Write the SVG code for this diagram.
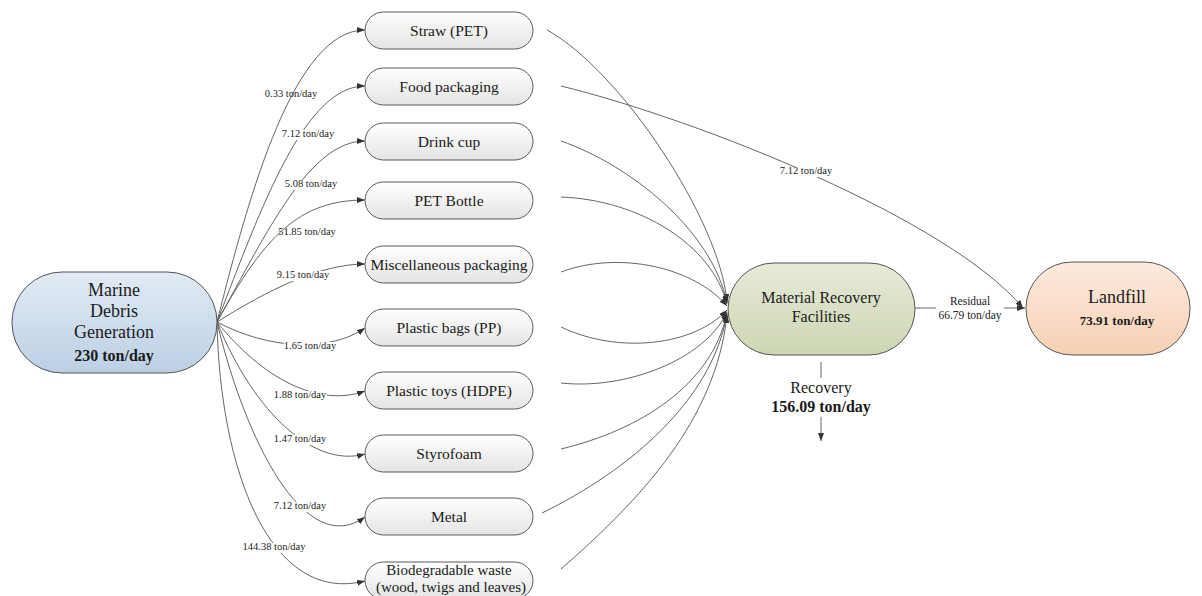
<svg xmlns="http://www.w3.org/2000/svg" width="1202" height="596" viewBox="0 0 1202 596">
<style>
.item{fill:url(#gItem);stroke:#5a5a5a;stroke-width:1}
text{font-family:'Liberation Serif','DejaVu Serif',serif}
.it{font-size:15.5px;fill:#1a1a1a;text-anchor:middle}
.big{font-size:18px;fill:#1a1a1a;text-anchor:middle}
.bold{font-weight:bold}
.lbl{font-size:10.5px;fill:#222;text-anchor:middle}
.lbg{fill:#fff}
.edge{fill:none;stroke:#555;stroke-width:0.9}
.arr{marker-end:url(#ah)}
</style>
<defs>
<marker id="ah" markerUnits="userSpaceOnUse" markerWidth="8" markerHeight="6" refX="8" refY="3" orient="auto">
<path d="M0,0 L8,3 L0,6 z" fill="#333"/>
</marker>
<linearGradient id="gItem" x1="0" y1="0" x2="0" y2="1"><stop offset="0" stop-color="#ffffff"/><stop offset="1" stop-color="#e4e4e4"/></linearGradient>
<linearGradient id="gBlue" x1="0" y1="0" x2="0" y2="1"><stop offset="0" stop-color="#e2ebf5"/><stop offset="1" stop-color="#bccfe4"/></linearGradient>
<linearGradient id="gGreen" x1="0" y1="0" x2="0" y2="1"><stop offset="0" stop-color="#e6ead8"/><stop offset="1" stop-color="#cdd6b3"/></linearGradient>
<linearGradient id="gPeach" x1="0" y1="0" x2="0" y2="1"><stop offset="0" stop-color="#fdeadf"/><stop offset="1" stop-color="#f6d0b4"/></linearGradient>
</defs>
<rect width="1202" height="596" fill="#fff"/>

<g id="connectors">
<path class="edge arr" d="M217,322 C250,190 295,30 365,30"/>
<path class="edge arr" d="M217,322 C262,205 305,86 365,86"/>
<path class="edge arr" d="M217,322 C268,230 310,141 365,141"/>
<path class="edge arr" d="M217,322 C265,235 300,200 365,200"/>
<path class="edge arr" d="M217,322 C268,290 320,264 365,264"/>
<path class="edge arr" d="M217,322 C270,350 330,352 365,328"/>
<path class="edge arr" d="M217,322 C262,378 318,408 365,391"/>
<path class="edge arr" d="M217,322 C255,415 315,468 365,454"/>
<path class="edge arr" d="M217,322 C245,440 305,560 365,517"/>
<path class="edge arr" d="M217,322 C220,470 270,605 365,581"/>

<path class="edge arr" d="M547,30 C620,70 720,220 727,302"/>
<path class="edge arr" d="M561,141 C630,165 712,230 727,303"/>
<path class="edge arr" d="M561,197 C640,200 712,245 727,304"/>
<path class="edge arr" d="M561,272 C620,250 695,268 727,306"/>
<path class="edge arr" d="M561,327 C620,355 695,345 727,310"/>
<path class="edge arr" d="M561,383 C625,390 705,360 727,312"/>
<path class="edge arr" d="M561,449 C640,430 712,385 727,313"/>
<path class="edge arr" d="M542,513 C630,470 712,400 727,314"/>
<path class="edge arr" d="M561,569 C640,500 716,420 727,315"/>
<path class="edge arr" d="M561,86 C700,120 950,220 1023,308"/>

<path class="edge arr" d="M915,308 L1025,308"/>
<path class="edge" d="M821,362 L821,378"/>
<path class="edge arr" d="M821,417 L821,441"/>
</g>

<g id="labels">
<text class="lbl" x="291" y="96.5">0.33 ton/day</text>
<rect class="lbg" x="282" y="130" width="53" height="10"/>
<text class="lbl" x="308" y="136.5">7.12 ton/day</text>
<rect class="lbg" x="285" y="180" width="53" height="10"/>
<text class="lbl" x="311" y="186.5">5.08 ton/day</text>
<text class="lbl" x="307" y="234.5">51.85 ton/day</text>
<rect class="lbg" x="277" y="271" width="53" height="10"/>
<text class="lbl" x="303" y="277.5">9.15 ton/day</text>
<rect class="lbg" x="284" y="342" width="53" height="10"/>
<text class="lbl" x="310" y="348.5">1.65 ton/day</text>
<rect class="lbg" x="274" y="391" width="53" height="10"/>
<text class="lbl" x="300" y="397.5">1.88 ton/day</text>
<rect class="lbg" x="274" y="435" width="53" height="10"/>
<text class="lbl" x="300" y="441.5">1.47 ton/day</text>
<rect class="lbg" x="274" y="502" width="53" height="10"/>
<text class="lbl" x="300" y="508.5">7.12 ton/day</text>
<rect class="lbg" x="243" y="543" width="62" height="10"/>
<text class="lbl" x="274" y="549.5">144.38 ton/day</text>
<rect class="lbg" x="780" y="167" width="53" height="10"/>
<text class="lbl" x="806" y="173.5">7.12 ton/day</text>
<rect class="lbg" x="936" y="294" width="68" height="26"/>
<text class="lbl" x="970" y="305" style="font-size:11.5px">Residual</text>
<text class="lbl" x="970" y="319" style="font-size:11.5px">66.79 ton/day</text>
<text class="it" x="821" y="393" style="font-size:16px">Recovery</text>
<text class="it bold" x="821" y="412" style="font-size:16px">156.09 ton/day</text>
</g>

<g id="marine">
<rect x="12" y="272" width="205" height="101" rx="50" ry="50" fill="url(#gBlue)" stroke="#555"/>
<text class="big" x="114" y="296">Marine</text>
<text class="big" x="114" y="317">Debris</text>
<text class="big" x="114" y="338">Generation</text>
<text class="big bold" x="114" y="361" style="font-size:16px">230 ton/day</text>
</g>

<g id="straw"><rect class="item" x="365" y="12" width="168" height="37" rx="18.5"/><text class="it" x="449" y="36">Straw (PET)</text></g>
<g id="food"><rect class="item" x="365" y="68" width="168" height="37" rx="18.5"/><text class="it" x="449" y="92">Food packaging</text></g>
<g id="drink"><rect class="item" x="365" y="123" width="168" height="37" rx="18.5"/><text class="it" x="449" y="147">Drink cup</text></g>
<g id="pet"><rect class="item" x="365" y="182" width="168" height="37" rx="18.5"/><text class="it" x="449" y="206">PET Bottle</text></g>
<g id="misc"><rect class="item" x="365" y="246" width="168" height="37" rx="18.5"/><text class="it" x="449" y="270">Miscellaneous packaging</text></g>
<g id="bags"><rect class="item" x="365" y="309" width="168" height="37" rx="18.5"/><text class="it" x="449" y="333">Plastic bags  (PP)</text></g>
<g id="toys"><rect class="item" x="365" y="372" width="168" height="37" rx="18.5"/><text class="it" x="449" y="396">Plastic toys (HDPE)</text></g>
<g id="styro"><rect class="item" x="365" y="435" width="168" height="37" rx="18.5"/><text class="it" x="449" y="459">Styrofoam</text></g>
<g id="metal"><rect class="item" x="365" y="498" width="168" height="37" rx="18.5"/><text class="it" x="449" y="522">Metal</text></g>
<g id="bio"><rect class="item" x="365" y="562" width="168" height="37" rx="18.5"/><text class="it" x="449" y="575" style="font-size:15px">Biodegradable waste</text><text class="it" x="451" y="592" style="font-size:15px">(wood, twigs and leaves)</text></g>

<g id="mrf">
<rect x="728" y="263" width="187" height="92" rx="46" ry="46" fill="url(#gGreen)" stroke="#555"/>
<text class="it" x="821" y="303" style="font-size:16px">Material Recovery</text>
<text class="it" x="821" y="322" style="font-size:16px">Facilities</text>
</g>

<g id="landfill">
<rect x="1026" y="262" width="164" height="93" rx="46" ry="46" fill="url(#gPeach)" stroke="#555"/>
<text class="big" x="1117" y="303">Landfill</text>
<text class="big bold" x="1117" y="325" style="font-size:13px">73.91 ton/day</text>
</g>
</svg>
